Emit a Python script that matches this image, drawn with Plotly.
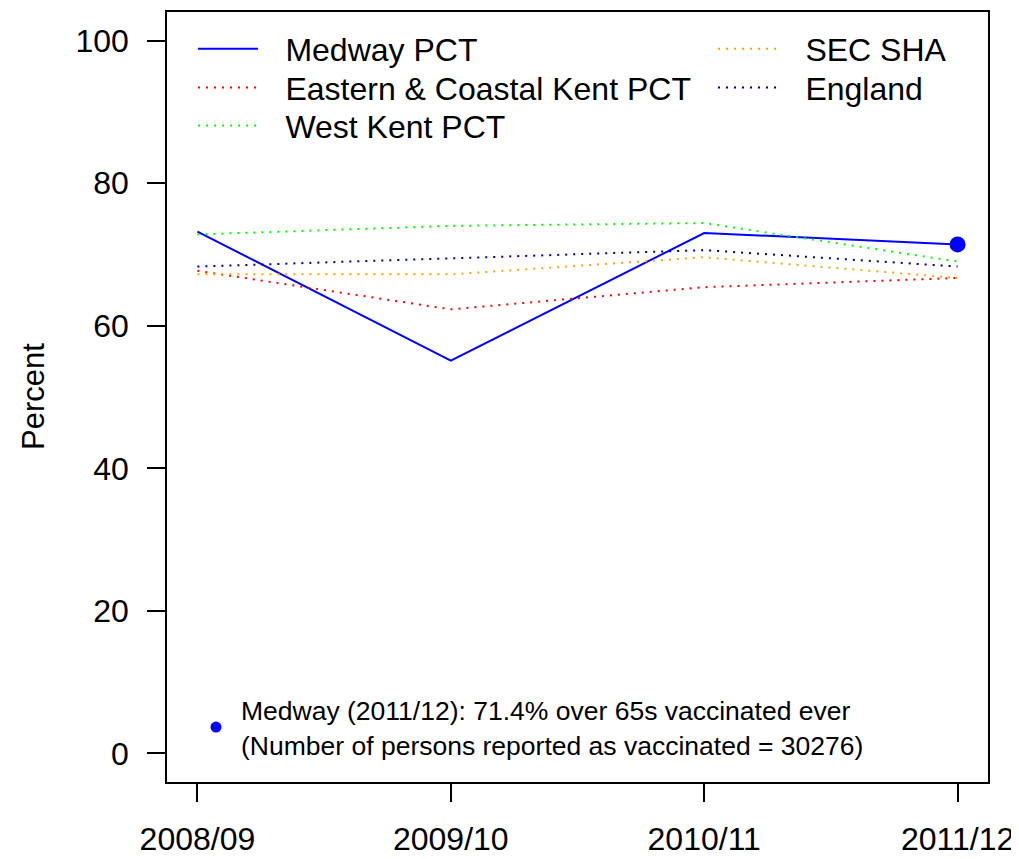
import plotly.graph_objects as go

years = ["2008/09", "2009/10", "2010/11", "2011/12"]
medway = [73.2, 55.1, 73.0, 71.4]
eastern_coastal = [67.7, 62.3, 65.4, 66.7]
west_kent = [72.8, 74.0, 74.4, 69.0]
sec_sha = [67.2, 67.2, 69.6, 66.7]
england = [68.3, 69.5, 70.6, 68.3]
medway_count = 30276
yticks = [0, 20, 40, 60, 80, 100]

xpos = list(range(1, len(years) + 1))
FONT = "Liberation Sans, Arial, Helvetica, sans-serif"
DOT = "2px,6px"
GAP = "\u2002\u2009"  # space between legend key and label

# page keeps its default 8px body margin; plot box on screen spans x 167..988, y 10..782
OFF = 8
SL, ST, SR, SB = 167, 10, 988, 782
W, H = 1019, 859
pw, ph = SR - SL, SB - ST

def px_x(sx):
    return (sx - SL) / pw

def px_y(sy):
    return 1 - (sy - ST) / ph

series = [
    ("Medway PCT", medway, "#0000FF", "solid", "legend", 193, 47),
    ("Eastern & Coastal Kent PCT", eastern_coastal, "#FF0000", DOT, "legend2", 193, 86),
    ("West Kent PCT", west_kent, "#00FF00", DOT, "legend3", 193, 124),
    ("SEC SHA", sec_sha, "#FFA500", DOT, "legend4", 713, 47),
    ("England", england, "#000080", DOT, "legend5", 713, 86),
]

fig = go.Figure()
legends = {}
for name, vals, color, dash, leg, lx, ly in series:
    fig.add_trace(go.Scatter(x=xpos, y=vals, mode="lines", name=GAP + name,
                             line=dict(color=color, width=2, dash=dash), legend=leg))
    legends[leg] = dict(x=px_x(lx), y=px_y(ly), xanchor="left", yanchor="middle",
                        font=dict(family=FONT, size=32, color="black"),
                        bgcolor="rgba(0,0,0,0)", borderwidth=0, itemwidth=60)

# highlighted latest Medway point
fig.add_trace(go.Scatter(x=[xpos[-1]], y=[medway[-1]], mode="markers", showlegend=False,
                         marker=dict(color="#0000FF", size=16)))
# explanatory key
label = (f"Medway ({years[-1]}): {medway[-1]}% over 65s vaccinated ever<br>"
         f"(Number of persons reported as vaccinated = {medway_count})")
fig.add_trace(go.Scatter(x=[None], y=[None], mode="markers", name=label,
                         marker=dict(color="#0000FF", size=11), legend="legend6"))
legends["legend6"] = dict(x=px_x(191), y=px_y(727), xanchor="left", yanchor="middle",
                          font=dict(family=FONT, size=26.5, color="black"),
                          bgcolor="rgba(0,0,0,0)", borderwidth=0, itemwidth=40)

fig.update_layout(
    width=W, height=H,
    margin=dict(l=SL - OFF, r=W - SR + OFF, t=ST - OFF, b=H - SB + OFF, pad=0),
    paper_bgcolor="white", plot_bgcolor="white",
    font=dict(family=FONT, size=32, color="black"),
    xaxis=dict(range=[0.88, 4.12], tickmode="array", tickvals=xpos, ticktext=years,
               showgrid=False, zeroline=False, showline=True, mirror=True,
               linecolor="black", linewidth=1.5, ticks="outside", ticklen=18,
               tickwidth=1.5, tickcolor="black", tickfont=dict(size=32),
               ticklabelstandoff=10),
    yaxis=dict(range=[-4, 104], tickmode="array", tickvals=yticks,
               showgrid=False, zeroline=False, showline=True, mirror=True,
               linecolor="black", linewidth=1.5, ticks="outside", ticklen=18,
               tickwidth=1.5, tickcolor="black", tickfont=dict(size=32),
               ticklabelstandoff=12),
    annotations=[dict(text="Percent", textangle=-90, xref="paper", yref="paper",
                      x=px_x(33), y=px_y(396), xanchor="center", yanchor="middle",
                      showarrow=False, font=dict(size=31))],
    **legends,
)

fig.write_html("out.html", config={"displayModeBar": False})
